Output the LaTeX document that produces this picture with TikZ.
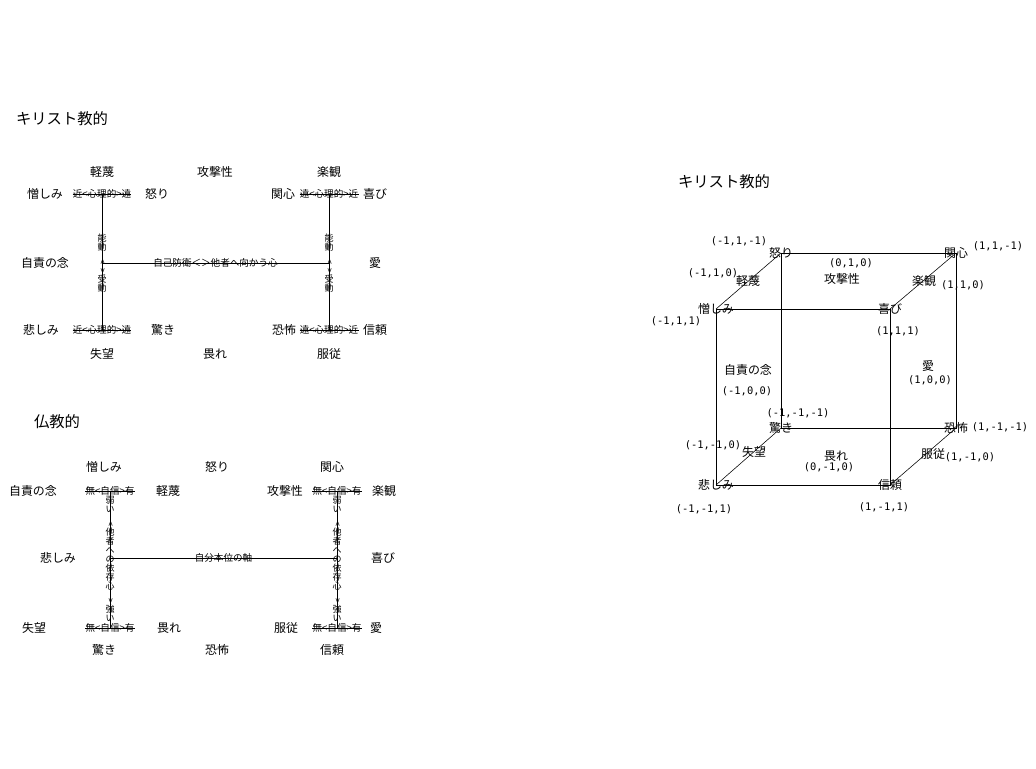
\documentclass[tikz,border=0pt]{standalone}
\usepackage{fontspec}
\setmainfont{Noto Sans CJK JP}
\newfontfamily\codefont{DejaVu Sans Mono}
\usepackage{graphicx}
\newcommand{\vlt}{\rotatebox{-90}{<}}
\newcommand{\vgt}{\rotatebox{-90}{>}}

\begin{document}
\begin{tikzpicture}[x=0.025cm,y=-0.025cm,
  emo/.style={font=\fontsize{8.5}{10}\selectfont,inner sep=0pt},
  ttl/.style={font=\fontsize{10.9}{12}\selectfont,inner sep=0pt},
  axis/.style={font=\fontsize{6.8}{7}\selectfont,inner sep=0pt},
  tate/.style={font=\fontsize{6.4}{6.4}\selectfont,inner sep=0pt,align=center},
  vtx/.style={font=\codefont\fontsize{7.4}{8}\selectfont,inner sep=0pt}]
\useasboundingbox (0,0) rectangle (1036,768);

% Christian chart
\node[ttl] (ctitle) at (62,119) {キリスト教的};

\coordinate (ctl) at (102,194);
\coordinate (cbl) at (102,330);
\coordinate (ctr) at (329,194);
\coordinate (cbr) at (329,330);
\coordinate (cml) at (102,263);
\coordinate (cmr) at (329,263);

\node[emo] (c1) at (102,172) {軽蔑};
\node[emo] (c2) at (215,172) {攻撃性};
\node[emo] (c3) at (329,172) {楽観};
\node[emo] (c4) at (45,194) {憎しみ};
\node[emo] (c5) at (157,194) {怒り};
\node[emo] (c6) at (283,194) {関心};
\node[emo] (c7) at (375,194) {喜び};
\node[emo] (c8) at (45,263) {自責の念};
\node[emo] (c9) at (375,263) {愛};
\node[emo] (c10) at (41,330) {悲しみ};
\node[emo] (c11) at (163,330) {驚き};
\node[emo] (c12) at (284,330) {恐怖};
\node[emo] (c13) at (375,330) {信頼};
\node[emo] (c14) at (102,354) {失望};
\node[emo] (c15) at (215,354) {畏れ};
\node[emo] (c16) at (329,354) {服従};

\node[axis] (ntl) at (ctl) {近<心理的>遠};
\node[axis] (nbl) at (cbl) {近<心理的>遠};
\node[axis] (ntr) at (ctr) {遠<心理的>近};
\node[axis] (nbr) at (cbr) {遠<心理的>近};
\draw (ntl.west) -- (ntl.east);
\draw (nbl.west) -- (nbl.east);
\draw (ntr.west) -- (ntr.east);
\draw (nbr.west) -- (nbr.east);

\draw (ctl) -- (cbl);
\draw (ctr) -- (cbr);
\draw (cml) -- (cmr) node[axis,midway] (cax) {自己防衛＜＞他者へ向かう心};
\node[tate] (cvl) at (cml) {能\\動\\\vlt\\\vgt\\受\\動};
\node[tate] (cvr) at (cmr) {能\\動\\\vlt\\\vgt\\受\\動};

% Buddhist chart
\node[ttl] (btitle) at (57,422) {仏教的};

\coordinate (btl) at (110,491);
\coordinate (bbl) at (110,628);
\coordinate (btr) at (337,491);
\coordinate (bbr) at (337,628);
\coordinate (bml) at (110,558);
\coordinate (bmr) at (337,558);

\node[emo] (b1) at (104,467) {憎しみ};
\node[emo] (b2) at (217,467) {怒り};
\node[emo] (b3) at (332,467) {関心};
\node[emo] (b4) at (33,491) {自責の念};
\node[emo] (b5) at (168,491) {軽蔑};
\node[emo] (b6) at (285,491) {攻撃性};
\node[emo] (b7) at (384,491) {楽観};
\node[emo] (b8) at (58,558) {悲しみ};
\node[emo] (b9) at (383,558) {喜び};
\node[emo] (b10) at (34,628) {失望};
\node[emo] (b11) at (169,628) {畏れ};
\node[emo] (b12) at (286,628) {服従};
\node[emo] (b13) at (376,628) {愛};
\node[emo] (b14) at (104,650) {驚き};
\node[emo] (b15) at (217,650) {恐怖};
\node[emo] (b16) at (332,650) {信頼};

\node[axis] (mtl) at (btl) {無<自信>有};
\node[axis] (mbl) at (bbl) {無<自信>有};
\node[axis] (mtr) at (btr) {無<自信>有};
\node[axis] (mbr) at (bbr) {無<自信>有};
\draw (mtl.west) -- (mtl.east);
\draw (mbl.west) -- (mbl.east);
\draw (mtr.west) -- (mtr.east);
\draw (mbr.west) -- (mbr.east);

\draw (btl) -- (bbl);
\draw (btr) -- (bbr);
\draw (bml) -- (bmr) node[axis,midway] (bax) {自分本位の軸};
\node[tate] (bvl) at (110,559) {弱\\い\\\vlt\\他\\者\\へ\\の\\依\\存\\心\\\vgt\\強\\い};
\node[tate] (bvr) at (337,559) {弱\\い\\\vlt\\他\\者\\へ\\の\\依\\存\\心\\\vgt\\強\\い};

% cube
\node[ttl] (ktitle) at (724,182) {キリスト教的};

\coordinate (hate) at (716,309);
\coordinate (joy) at (890,309);
\coordinate (sad) at (716,485);
\coordinate (trust) at (890,485);
\coordinate (anger) at (781,253);
\coordinate (interest) at (956,253);
\coordinate (surprise) at (781,428);
\coordinate (fear) at (956,428);

\draw (hate) -- (joy) -- (trust) -- (sad) -- cycle;
\draw (anger) -- (interest) -- (fear) -- (surprise) -- cycle;
\draw (hate) -- (anger);
\draw (joy) -- (interest);
\draw (sad) -- (surprise);
\draw (trust) -- (fear);

\node[emo] (k1) at (hate) {憎しみ};
\node[emo] (k2) at (joy) {喜び};
\node[emo] (k3) at (sad) {悲しみ};
\node[emo] (k4) at (trust) {信頼};
\node[emo] (k5) at (anger) {怒り};
\node[emo] (k6) at (interest) {関心};
\node[emo] (k7) at (surprise) {驚き};
\node[emo] (k8) at (fear) {恐怖};
\node[emo] (k9) at (748,281) {軽蔑};
\node[emo] (k10) at (842,279) {攻撃性};
\node[emo] (k11) at (924,281) {楽観};
\node[emo] (k12) at (748,370) {自責の念};
\node[emo] (k13) at (928,366) {愛};
\node[emo] (k14) at (754,452) {失望};
\node[emo] (k15) at (836,456) {畏れ};
\node[emo] (k16) at (933,454) {服従};

\node[vtx] (p1) at (739,241) {(-1,1,-1)};
\node[vtx] (p2) at (713,273) {(-1,1,0)};
\node[vtx] (p3) at (676,321) {(-1,1,1)};
\node[vtx] (p4) at (851,263) {(0,1,0)};
\node[vtx] (p5) at (963,285) {(1,1,0)};
\node[vtx] (p6) at (998,246) {(1,1,-1)};
\node[vtx] (p7) at (898,331) {(1,1,1)};
\node[vtx] (p8) at (747,391) {(-1,0,0)};
\node[vtx] (p9) at (930,380) {(1,0,0)};
\node[vtx] (p10) at (798,413) {(-1,-1,-1)};
\node[vtx] (p11) at (713,445) {(-1,-1,0)};
\node[vtx] (p12) at (829,467) {(0,-1,0)};
\node[vtx] (p13) at (970,457) {(1,-1,0)};
\node[vtx] (p14) at (1000,427) {(1,-1,-1)};
\node[vtx] (p15) at (704,509) {(-1,-1,1)};
\node[vtx] (p16) at (884,507) {(1,-1,1)};
\end{tikzpicture}
\end{document}
